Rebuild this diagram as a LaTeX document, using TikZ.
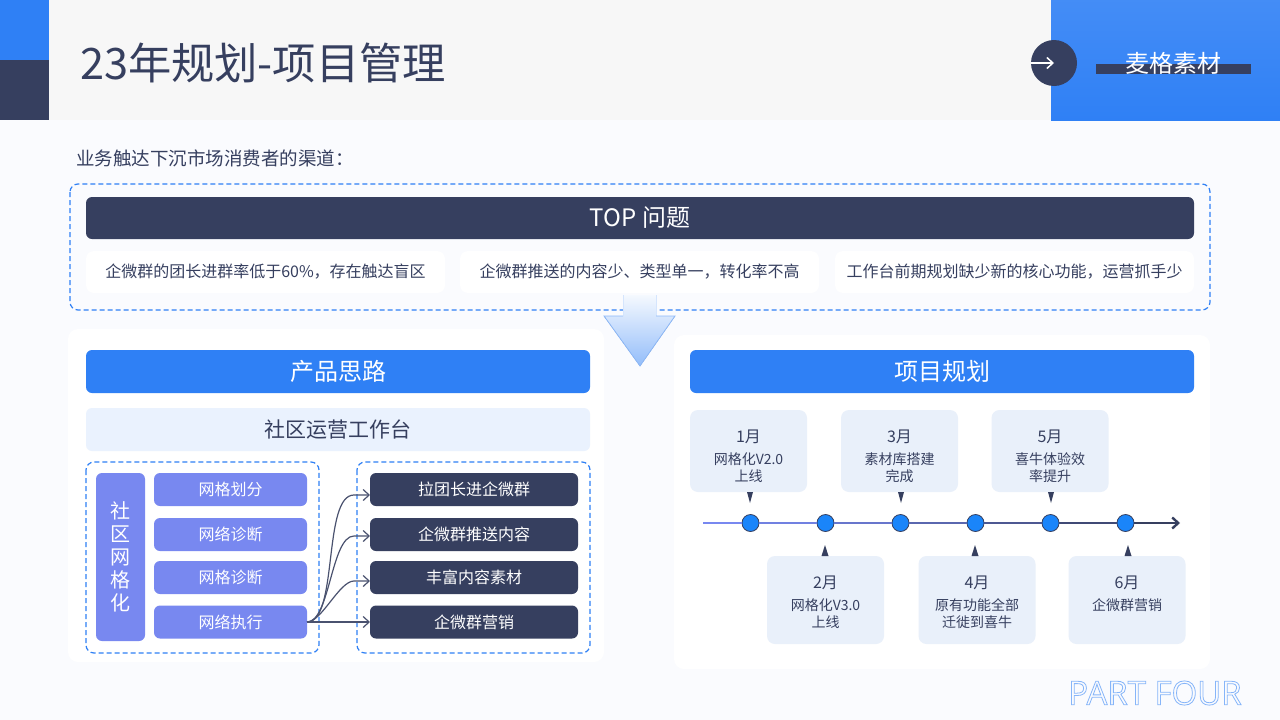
\documentclass[tikz,border=0pt]{standalone}
\usepackage{fontspec}
\setmainfont{Noto Sans CJK SC}
\newfontfamily\partfont{Open Sans}
\usetikzlibrary{arrows.meta}
\newcommand{\fsz}[1]{\fontsize{#1}{#1}\selectfont}
\newcommand{\cjkcomma}{\char"FF0C\relax}
\newcommand{\cjkcolon}{\char"FF1A\relax}
\definecolor{navy}{HTML}{363F5F}
\definecolor{mainblue}{HTML}{2F80F5}
\definecolor{pageblue}{HTML}{FAFBFE}
\definecolor{violet}{HTML}{7888F0}
\definecolor{paleblue}{HTML}{E9F0FA}
\definecolor{dotblue}{HTML}{1A85FA}
\tikzset{
	plain/.style={inner sep=0pt, outer sep=0pt, text=navy},
	dashbox/.style={draw=mainblue, dash pattern=on 5pt off 3pt, line width=1.2pt, rounded corners=8pt},
	bar/.style={plain, rounded corners=6pt, minimum height=#1},
	bluebar/.style={bar=43pt, fill=mainblue, text=white, font=\fsz{24}, minimum width=504pt},
	card/.style={plain, fill=white, rounded corners=8pt, minimum width=359pt, minimum height=42pt, font=\fsz{16}},
	itembox/.style={bar=33pt, fill=violet, text=white, minimum width=153pt, font=\fsz{16}},
	taskbox/.style={bar=33pt, fill=navy, text=white, minimum width=208pt, font=\fsz{16}},
	monthbox/.style={plain, fill=paleblue, rounded corners=8pt, minimum width=117pt},
	monthtext/.style={plain, align=center, font=\fontsize{14}{16.5}\selectfont, anchor=north},
	dot/.style={circle, draw=navy, fill=dotblue, line width=0.8pt, minimum size=17pt, inner sep=0pt, outer sep=0pt},
	tick/.style={fill=navy},
	axis/.style={line width=2.4pt},
}
\begin{document}
\begin{tikzpicture}[x=1pt, y=-1pt, >={Straight Barb[length=6pt,width=11pt]}]
	\useasboundingbox (0,0) rectangle (1280,720);
	\fill[pageblue] (0,0) rectangle (1280,720);
	% header
	\fill[black!3] (49,0) rectangle (1051,120);
	\fill[mainblue] (0,0) rectangle (49,60);
	\fill[navy] (0,60) rectangle (49,120);
	\fill[top color=mainblue!90!white, bottom color=mainblue] (1051,0) rectangle (1280,120);
	\fill[navy] (1096,64) rectangle (1251,74);
	\node[plain, anchor=west, font=\fsz{43.3}] (title) at (80,63) {23年规划-项目管理};
	\node[plain, text=white, font=\fsz{24}] (brand) at (1173,63) {麦格素材};
	\node[circle, fill=navy, minimum size=46pt, inner sep=0pt] (badge) at (1054,63) {};
	\draw[->, white, line width=1.5pt] (badge.west) -- (badge.center);
	\node[plain, anchor=west, font=\fsz{18.5}] (intro) at (76,158) {业务触达下沉市场消费者的渠道\cjkcolon};

	% top problems
	\draw[dashbox] (70,184) rectangle (1210,310);
	\node[bar=42pt, fill=navy, text=white, font=\fsz{24}, minimum width=1108pt] (top) at (640,218) {TOP 问题};
	\node[card] (prob1) at (265.5,272) {企微群的团长进群率低于60\%\cjkcomma 存在触达盲区};
	\node[card] (prob2) at (639.5,272) {企微群推送的内容少、类型单一\cjkcomma 转化率不高};
	\node[card] (prob3) at (1014.5,272) {工作台前期规划缺少新的核心功能\cjkcomma 运营抓手少};

	% panels
	\fill[white, rounded corners=10pt] (68,329) rectangle (604,662);
	\fill[white, rounded corners=10pt] (674,335) rectangle (1210,669);
	\fill[top color=mainblue!5, bottom color=mainblue!52]
		(623,295) -- (623,316) -- (604,316) -- (640,366) -- (675,316) -- (656,316) -- (656,295) -- cycle;
	\draw[mainblue!20, line width=0.8pt] (623,295) -- (623,316) (656,295) -- (656,316);
	\draw[mainblue!55, line width=0.8pt] (623,316) -- (604,316) -- (640,366) -- (675,316) -- (656,316);

	% left panel
	\node[bluebar] (idea) at (338,371.5) {产品思路};
	\node[bar=43pt, fill=mainblue!10, font=\fsz{21}, minimum width=504pt] (bench) at (338,429.5) {社区运营工作台};
	\draw[dashbox] (86,462) rectangle (319,653);
	\draw[dashbox] (357,462) rectangle (590,653);
	\node[bar=168pt, fill=violet, text=white, minimum width=49pt, align=center, font=\fsz{20}] (grid) at (120.5,557) {社\\[3pt]区\\[3pt]网\\[3pt]格\\[3pt]化};
	\node[itembox] (item1) at (230.5,489.5) {网格划分};
	\node[itembox] (item2) at (230.5,534.5) {网络诊断};
	\node[itembox] (item3) at (230.5,577.5) {网格诊断};
	\node[itembox] (item4) at (230.5,622) {网络执行};
	\node[taskbox] (task1) at (474,489.5) {拉团长进企微群};
	\node[taskbox] (task2) at (474,534.5) {企微群推送内容};
	\node[taskbox] (task3) at (474,577.5) {丰富内容素材};
	\node[taskbox] (task4) at (474,622) {企微群营销};
	\foreach \i/\yy in {1/495,2/536,3/581,4/622} {
		\coordinate (via\i) at (354,\yy);
		\draw[->, navy!90, line width=1.2pt] (item4.east) to[out=0, in=180, looseness=0.6] (via\i) -- (task\i.west |- via\i);
	}

	% right panel
	\node[bluebar] (plan) at (942,371.5) {项目规划};
	\foreach \nm/\xx/\yy/\hh/\mon/\txt in {
		m1/748.5/451/82/1月/{网格化V2.0\\上线},
		m3/899.5/451/82/3月/{素材库搭建\\完成},
		m5/1050/451/82/5月/{喜牛体验效\\率提升},
		m2/825.5/600/88/2月/{网格化V3.0\\上线},
		m4/977/600/88/4月/{原有功能全部\\迁徙到喜牛},
		m6/1127/600/88/6月/{企微群营销}}
	{
		\node[monthbox, minimum height=\hh pt] (\nm) at (\xx,\yy) {};
		\node[monthtext, below=20pt] (\nm head) at (\nm.north) {\fsz{16}\mon};
		\node[monthtext, below=43pt] (\nm text) at (\nm.north) {\txt};
	}

	% timeline
	\coordinate (start) at (703,523);
	\coordinate (stop) at (1180,523);
	\foreach \i/\xx in {1/750.5,2/825.5,3/900.5,4/975.5,5/1050.5,6/1125.5}
		\node[dot] (d\i) at (\xx,523) {};
	\draw[axis, violet] (start) -- (d1);
	\draw[axis, violet!90!navy] (d1) -- (d2);
	\draw[axis, violet!75!navy] (d2) -- (d3);
	\draw[axis, violet!55!navy] (d3) -- (d4);
	\draw[axis, violet!35!navy] (d4) -- (d5);
	\draw[axis, violet!15!navy] (d5) -- (d6);
	\draw[axis, ->, navy] (d6) -- (stop);
	\foreach \xx in {750,901,1051}
		\fill[tick] (\xx-3,492) -- (\xx+3,492) -- (\xx,503) -- cycle;
	\foreach \xx in {825,975,1128}
		\fill[tick] (\xx-3.5,556) -- (\xx+3.5,556) -- (\xx,545) -- cycle;

	% footer
	\node[plain, text=mainblue!58, font=\partfont\fsz{33}] (part) at (1155,693) {\special{pdf:code 1 Tr 0.8 w}PART FOUR\special{pdf:code 0 Tr}};
\end{tikzpicture}
\end{document}
